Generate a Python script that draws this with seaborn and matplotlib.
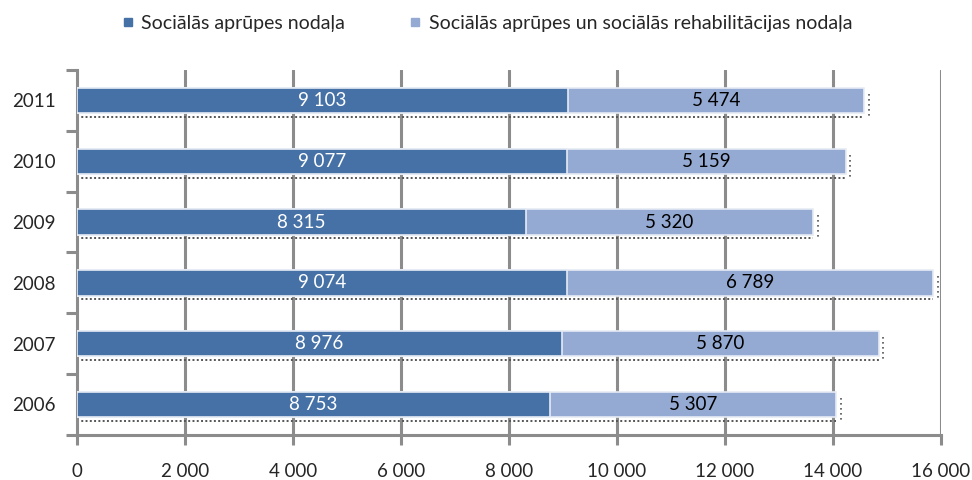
import pandas as pd
import seaborn as sns
import matplotlib.pyplot as plt
import numpy as np

years = ['2011', '2010', '2009', '2008', '2007', '2006']
aprupe = [9103, 9077, 8315, 9074, 8976, 8753]
rehab = [5474, 5159, 5320, 6789, 5870, 5307]
series_names = ['Sociālās aprūpes nodaļa',
                'Sociālās aprūpes un sociālās rehabilitācijas nodaļa']
xticks = [0, 2000, 4000, 6000, 8000, 10000, 12000, 14000, 16000]

dark = '#4671A6'
light = '#95AAD2'
grid_c = '#8C8C8C'
fs = 13.5

df = pd.DataFrame({'gads': years, 'a': aprupe, 'b': rehab})
df['kopa'] = df['a'] + df['b']

sns.set_theme(style='white')
plt.rcParams['font.family'] = ['Lato', 'DejaVu Sans']

fig = plt.figure(figsize=(9.72, 4.8), dpi=100)
ax = fig.add_axes([0.079, 0.094, 0.889, 0.76])

bw = 0.42
sns.barplot(data=df, y='gads', x='kopa', order=years, color=light, width=bw,
            edgecolor='#E6ECF5', linewidth=1.2, saturation=1, ax=ax, zorder=3)
sns.barplot(data=df, y='gads', x='a', order=years, color=dark, width=bw,
            edgecolor='#E6ECF5', linewidth=1.2, saturation=1, ax=ax, zorder=4)

# punktēta ēna zem stabiņiem
pos = np.arange(len(years))
ax.hlines(pos + bw / 2 + 0.06, 0, df['kopa'], colors='#555555',
          linestyles=(0, (1, 1.2)), linewidth=1.4, zorder=2)
ax.vlines(df['kopa'] + 90, pos - bw / 2 + 0.1, pos + bw / 2 + 0.06,
          colors='#555555', linestyles=(0, (1, 2)), linewidth=1.2, zorder=2)

def fmt(v):
    return f'{v:,}'.replace(',', ' ')

for i in range(len(years)):
    ax.text(df['a'][i] / 2, i, fmt(df['a'][i]), ha='center', va='center',
            color='white', fontsize=fs, zorder=5)
    ax.text(df['a'][i] + df['b'][i] / 2, i, fmt(df['b'][i]), ha='center',
            va='center', color='black', fontsize=fs, zorder=5)

ax.set_xlim(0, 16000)
ax.set_ylim(len(years) - 0.5, -0.5)
ax.set_xticks(xticks)
ax.set_xticklabels([fmt(t) for t in xticks], fontsize=fs)
ax.set_yticks(pos)
ax.set_yticklabels(years, fontsize=fs)
ax.set_yticks(np.arange(len(years) + 1) - 0.5, minor=True)
ax.set_xlabel('')
ax.set_ylabel('')

for x in xticks[1:]:
    ax.axvline(x, color=grid_c, linewidth=2.2, zorder=1)

for s in ['top', 'right']:
    ax.spines[s].set_visible(False)
for s in ['left', 'bottom']:
    ax.spines[s].set_color(grid_c)
    ax.spines[s].set_linewidth(2.2)

ax.tick_params(axis='x', which='major', direction='out', length=7, width=2.2,
               color=grid_c, pad=13, bottom=True)
ax.tick_params(axis='y', which='major', length=0, pad=15)
ax.tick_params(axis='y', which='minor', direction='out', length=8, width=2.2,
               color=grid_c, left=True)

handles = [plt.Line2D([], [], marker='s', linestyle='', color=dark, markersize=6),
           plt.Line2D([], [], marker='s', linestyle='', color=light, markersize=6)]
fig.legend(handles, series_names, loc='upper center', bbox_to_anchor=(0.5, 1.0),
           ncol=2, frameon=False, fontsize=14, handlelength=0.8,
           handletextpad=0.3, columnspacing=3.2, borderaxespad=0.35)

fig.savefig('out.png', dpi=100)
